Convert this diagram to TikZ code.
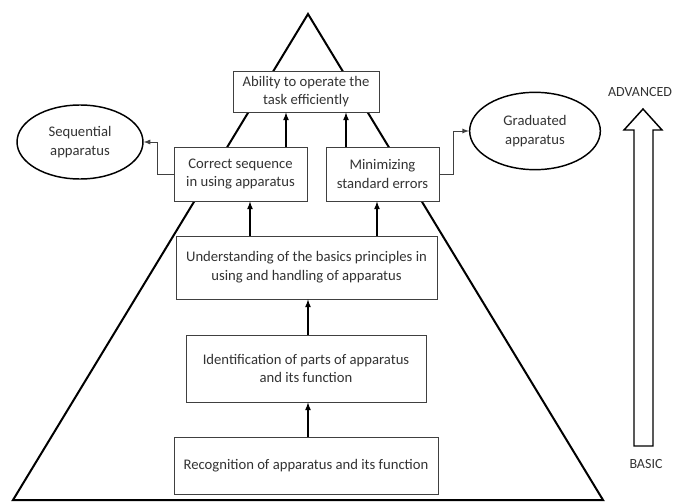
\documentclass[tikz,border=0pt]{standalone}
\usepackage{fontspec}
\setmainfont{Carlito}
\usepackage{tikz}
\usetikzlibrary{calc, shapes.geometric, positioning}

\tikzset{
    box/.style={draw=black!75, line width=0.7pt, fill=white, align=center,
        text=black!80, inner sep=2pt, font=\fontsize{11}{14}\selectfont},
    oval/.style={ellipse, draw, line width=1.1pt, fill=white, align=center,
        text=black!80, inner sep=0pt, font=\fontsize{11}{14}\selectfont},
    tag/.style={text=black!80, font=\fontsize{10.5}{12}\selectfont}
}

\begin{document}
\begin{tikzpicture}[>=latex, x=0.75pt, y=-0.75pt]
    \useasboundingbox (0,0) rectangle (675,503);
    % 1. Kim tu thap
    \draw[line width=1.5pt, line join=miter] (308,14) -- (603,500) -- (13,500) -- cycle;

    % 2. Cac khoi
    \node[box, minimum width=109.5pt, minimum height=30.75pt] (ability) at (306,91.5)
        {Ability to operate the\\task efficiently};
    \node[box, minimum width=99.75pt, minimum height=40.5pt] (correct) at (240.5,174)
        {Correct sequence\\in using apparatus};
    \node[box, minimum width=84.75pt, minimum height=40.5pt] (minimize) at (382.5,174)
        {Minimizing\\standard errors};
    \node[box, minimum width=195.75pt, minimum height=47.25pt] (understand) at (306.5,267.5)
        {Understanding of the basics principles in\\using and handling of apparatus};
    \node[box, minimum width=180pt, minimum height=50.25pt] (identify) at (306,368.5)
        {Identification of parts of apparatus\\and its function};
    \node[box, minimum width=198pt, minimum height=42.75pt] (recognize) at (306,465.5)
        {Recognition of apparatus and its function};
    \node[oval, minimum width=94.5pt, minimum height=55.5pt] (sequential) at (80,142)
        {Sequential\\apparatus};
    \node[oval, minimum width=98pt, minimum height=58pt] (graduated) at (535,131)
        {Graduated\\apparatus};

    % 3. Mui ten
    \foreach \xa/\from/\to in {308/recognize/identify, 308/identify/understand,
                               250/understand/correct, 377/understand/minimize,
                               286/correct/ability, 346/minimize/ability} {
        \coordinate (col) at (\xa,0);
        \draw[->, line width=1pt] (\from.north -| col) -- (\to.south -| col);
    }
    \draw[->, black!75, line width=0.7pt] (correct.west) -- ++(-16,0) |- (sequential.east);
    \draw[->, black!75, line width=0.7pt] (minimize.east) -- ++(14,0) |- (graduated.west);

    % 4. Mui ten lon
    \node[tag] (advanced) at (640,92) {ADVANCED};
    \node[tag] (basic) at (646,464) {BASIC};
    \draw[line width=1.1pt, line join=miter]
        (643,109) -- (662,130) -- (653,130) -- (653,446) -- (634,446)
        -- (634,130) -- (624,130) -- cycle;
\end{tikzpicture}
\end{document}
